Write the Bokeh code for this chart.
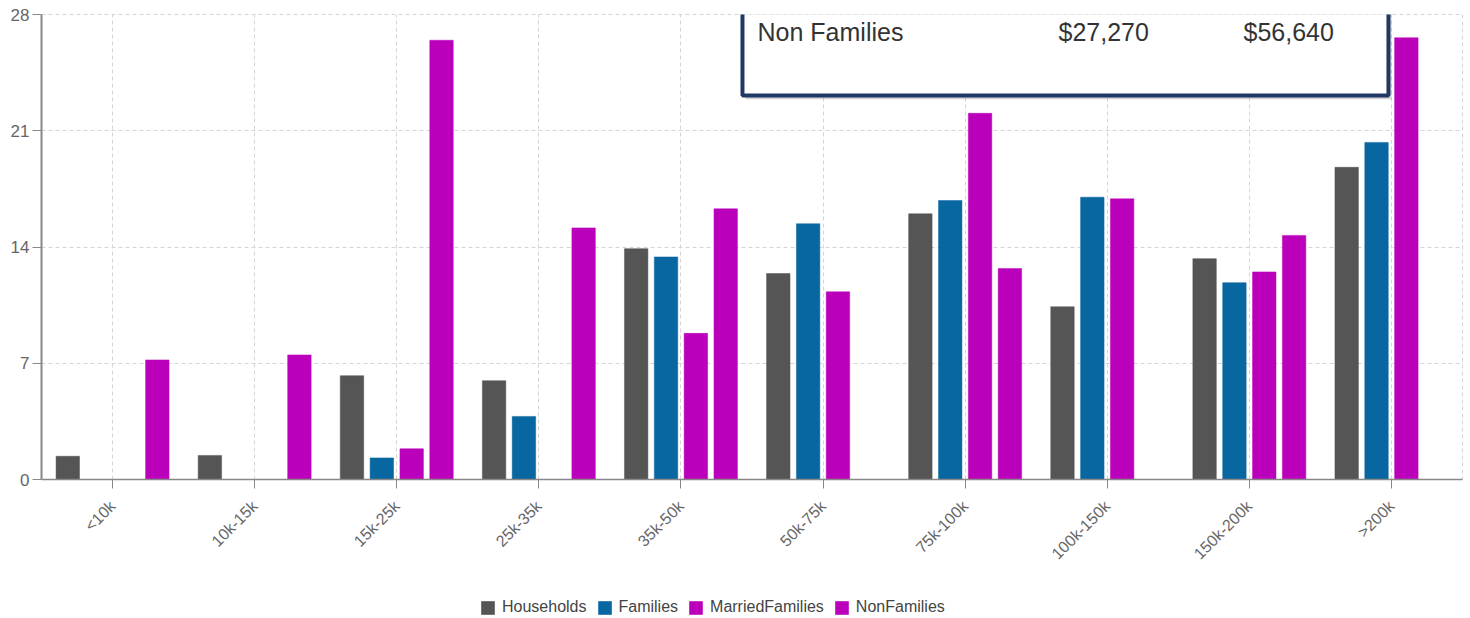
from bokeh.plotting import figure
from bokeh.layouts import column
from bokeh.models import (ColumnDataSource, FactorRange, Range1d, FixedTicker, Legend,
                          LegendItem, BoxAnnotation, Label)
from bokeh.transform import dodge
from bokeh.embed import file_html
from bokeh.resources import INLINE

categories = ["<10k", "10k-15k", "15k-25k", "25k-35k", "35k-50k", "50k-75k",
              "75k-100k", "100k-150k", "150k-200k", ">200k"]
households = [1.4, 1.45, 6.25, 5.95, 13.9, 12.4, 16.0, 10.4, 13.3, 18.8]
families = [0, 0, 1.3, 3.8, 13.4, 15.4, 16.8, 17.0, 11.85, 20.3]
married_families = [0, 0, 1.85, 0, 8.8, 11.3, 22.05, 16.9, 12.5, 26.6]
non_families = [7.2, 7.5, 26.45, 15.15, 16.3, 0, 12.7, 0, 14.7, 0]
series_names = ["Households", "Families", "MarriedFamilies", "NonFamilies"]
series_colors = ["#555555", "#0866A0", "#BB00BB", "#BB00BB"]
y_ticks = [0, 7, 14, 21, 28]
tooltip_row = ["Non Families", "$27,270", "$56,640"]

FONT = "Liberation Sans"

source = ColumnDataSource(dict(cat=categories, Households=households, Families=families,
                               MarriedFamilies=married_families, NonFamilies=non_families))

p = figure(width=1470, height=590, x_range=FactorRange(*categories), y_range=Range1d(0, 28),
           output_backend="svg", toolbar_location=None,
           min_border_left=41, min_border_right=8, min_border_top=14, min_border_bottom=111)

offsets = [-0.315, -0.105, 0.105, 0.315]
for name, col, off in zip(series_names, series_colors, offsets):
    p.vbar(x=dodge("cat", off, range=p.x_range), top=name, width=0.165, source=source,
           fill_color=col, line_color=col, line_width=0.5)

# grid / outline
for g in (p.xgrid, p.ygrid):
    g.grid_line_color = "#d4d4d4"
    g.grid_line_dash = "4 3"
    g.grid_line_width = 1
p.outline_line_color = "#d4d4d4"
p.outline_line_dash = "4 3"
p.background_fill_color = "white"
p.border_fill_color = "white"

p.yaxis.ticker = FixedTicker(ticks=y_ticks)
for ax in (p.xaxis, p.yaxis):
    ax.axis_line_color = "#888888"
    ax.major_tick_line_color = "#888888"
    ax.major_tick_out = 9
    ax.major_tick_in = 0
    ax.minor_tick_line_color = None
    ax.major_label_text_font = FONT
    ax.major_label_text_color = "#666666"
p.yaxis.major_label_text_font_size = "17px"
p.xaxis.major_label_text_font_size = "16px"
p.yaxis.axis_line_width = 2
p.xaxis.axis_line_width = 1.5
p.yaxis.major_label_standoff = 3
p.xaxis.major_label_standoff = 15
p.xaxis.major_label_orientation = 0.785398

# tooltip-like box
shadow = BoxAnnotation(left=4.955, right=9.50, bottom=22.9, top=30,
                       fill_color="#888888", fill_alpha=0.35, line_color=None)
box = BoxAnnotation(left=4.933, right=9.479, bottom=23.12, top=30,
                    fill_color="white", fill_alpha=1.0, line_color="#1F3864",
                    line_alpha=1.0, line_width=4)
p.add_layout(shadow)
p.add_layout(box)
for txt, xx in zip(tooltip_row, [5.039, 7.157, 8.459]):
    p.add_layout(Label(x=xx, y=26.92, text=txt, text_baseline="middle", text_align="left",
                       text_font=FONT, text_font_size="25px", text_color="#333333"))

# legend strip (its bars lie below its own view; only their legend swatches show)
lg = figure(width=1470, height=28, output_backend="svg", toolbar_location=None,
            x_axis_type=None, y_axis_type=None, min_border=0,
            x_range=FactorRange(*categories), y_range=Range1d(100, 200))
lg.outline_line_color = None
lg.grid.visible = False
lg.background_fill_color = "white"
lg.border_fill_color = "white"
items = []
for name, col in zip(series_names, series_colors):
    r = lg.vbar(x="cat", top=name, width=0.2, source=source, fill_color=col, line_color=None)
    items.append(LegendItem(label=name, renderers=[r]))
legend = Legend(items=items, orientation="horizontal", location=(438, 2),
                glyph_width=17, glyph_height=17, label_height=17, label_standoff=6, spacing=9,
                padding=0, margin=0, border_line_color=None, background_fill_alpha=0,
                label_text_font=FONT, label_text_font_size="16px", label_text_color="#444444")
lg.add_layout(legend, "center")

layout = column(p, lg, spacing=0)
open("out.html", "w").write(file_html(layout, INLINE))
